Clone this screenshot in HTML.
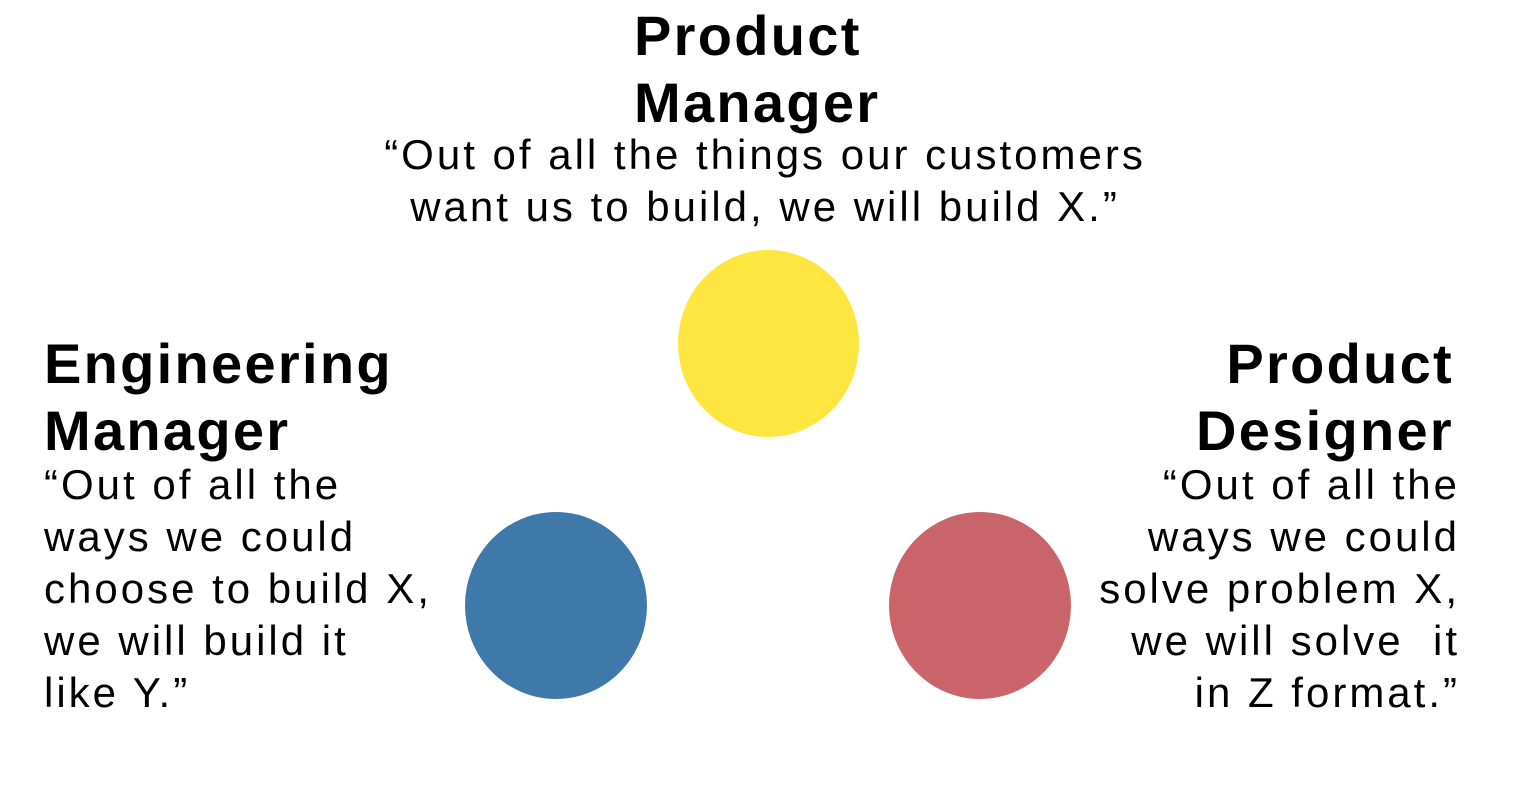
<!DOCTYPE html>
<html><head><meta charset="utf-8"><style>
html,body{margin:0;padding:0;background:#fff;}
body{width:1536px;height:794px;position:relative;overflow:hidden;font-family:"Liberation Sans",sans-serif;color:#000;}
.t{position:absolute;font-weight:bold;font-size:56px;line-height:67px;white-space:nowrap;letter-spacing:2.3px;}
.q{position:absolute;font-size:42px;line-height:52px;white-space:nowrap;letter-spacing:3px;}
.c{position:absolute;border-radius:50%;}
</style></head><body>
<div class="t" style="left:634px;top:2px;">Product<br>Manager</div>
<div class="q" style="left:-3px;width:1536px;top:129px;text-align:center;">“Out of all the things our customers<br>want us to build, we will build X.”</div>
<div class="c" style="left:678px;top:250px;width:181px;height:187px;background:#FDE640;"></div>
<div class="c" style="left:465px;top:512px;width:182px;height:187px;background:#3F79AA;"></div>
<div class="c" style="left:889px;top:512px;width:182px;height:187px;background:#C9646A;"></div>
<div class="t" style="left:44px;top:330px;">Engineering<br>Manager</div>
<div class="q" style="left:44px;top:459px;">“Out of all the<br>ways we could<br>choose to build X,<br>we will build it<br>like Y.”</div>
<div class="t" style="right:82px;top:330px;text-align:right;">Product<br>Designer</div>
<div class="q" style="right:76px;top:459px;text-align:right;">“Out of all the<br>ways we could<br>solve problem X,<br>we will solve &nbsp;it<br>in Z format.”</div>
</body></html>
